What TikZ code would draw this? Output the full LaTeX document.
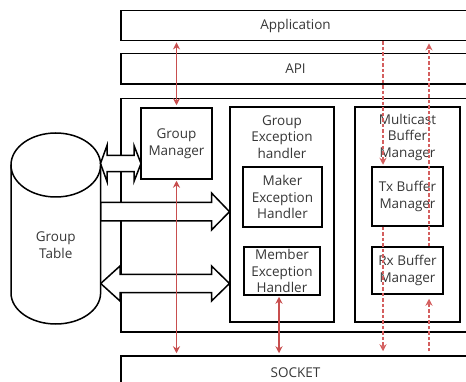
\documentclass[tikz,border=0pt]{standalone}
\usepackage{fontspec}
\setmainfont{Open Sans}
\usetikzlibrary{arrows.meta}
\definecolor{txt}{RGB}{55,55,55}
\definecolor{arrred}{RGB}{200,78,78}
\definecolor{dashred}{RGB}{212,95,95}
\begin{document}
\begin{tikzpicture}[x=1pt,y=-1pt,
  box/.style={draw=black, line width=1.5pt, fill=white, inner sep=0pt, align=center,
    text=txt, font=\fontsize{13.5}{16.5}\selectfont},
  lbl/.style={inner sep=0pt, align=center, text=txt, font=\fontsize{13.5}{16.5}\selectfont},
  blockarrow/.style={draw=black, line width=1.5pt, fill=white, line join=miter},
  redsolid/.style={draw=arrred, line width=1.6pt, {Stealth[length=7pt,width=7pt]}-{Stealth[length=7pt,width=7pt]}, shorten <=1pt, shorten >=2pt},
  reddash/.style={draw=dashred, line width=1.6pt, dash pattern=on 3.5pt off 2pt, -{Stealth[length=7pt,width=7pt]}}
]
\useasboundingbox (0,0) rectangle (466,382);
\clip (0,0) rectangle (466,382);

% layers
\node[box, minimum width=349pt, minimum height=30pt] (app) at (295.5,25.7) {Application};
\node[box, minimum width=349pt, minimum height=30.5pt] (api) at (295.5,68.7) {API};
\node[box, minimum width=349pt, minimum height=233.7pt] (cont) at (295.5,215.2) {};
\node[box, minimum width=349pt, minimum height=34pt] (sock) at (295.5,373) {SOCKET};

% inner modules
\node[box, minimum width=71pt, minimum height=71pt] (gm) at (176.5,143.5) {Group\\Manager};
\node[box, minimum width=104pt, minimum height=215pt] (geh) at (282,214.5) {};
\node[lbl] (gehl) at (282,137) {Group\\Exception\\handler};
\node[box, minimum width=79pt, minimum height=60pt] (maker) at (282.5,197) {Maker\\Exception\\Handler};
\node[box, minimum width=76pt, minimum height=48pt] (member) at (282,271) {Member\\Exception\\Handler};
\node[box, minimum width=105pt, minimum height=215pt] (mbm) at (407.5,214.5) {};
\node[lbl] (mbml) at (407.5,137) {Multicast\\Buffer\\Manager};
\node[box, minimum width=71pt, minimum height=59pt] (tx) at (407.5,196.5) {Tx Buffer\\Manager};
\node[box, minimum width=71pt, minimum height=47pt] (rx) at (407.5,270.5) {Rx Buffer\\Manager};

% block arrows
\path[blockarrow] (100.5,163.5) -- (107,145.5) -- (107,155.3) -- (134,155.3) -- (134,145.5)
  -- (141,163.5) -- (134,181.5) -- (134,171.7) -- (107,171.7) -- (107,181.5) -- cycle;
\path[blockarrow] (100.6,202.5) -- (211.5,202.5) -- (211.5,193) -- (229.5,211.7) -- (211.5,230)
  -- (211.5,221) -- (100.6,221) -- cycle;
\path[blockarrow] (100.7,283.5) -- (120,266) -- (120,274.5) -- (211.5,274.5) -- (211.5,266)
  -- (229.5,283.5) -- (211.5,301) -- (211.5,292.7) -- (120,292.7) -- (120,301) -- cycle;

% cylinder (Group Table)
\path[draw=black, line width=1.5pt, fill=white]
  (11,165) -- (11,293) .. controls (11,310.1) and (31.05,324) .. (55.8,324)
  .. controls (80.55,324) and (100.6,310.1) .. (100.6,293) -- (100.6,165);
\draw[line width=1.5pt] (55.8,165) ellipse [x radius=44.8pt, y radius=32pt];
\node[lbl] (gt) at (55.8,245) {Group\\Table};

% red solid connectors
\draw[redsolid] (app.south -| gm.north) -- (gm.north);
\draw[redsolid] (gm.south) -- (gm.south |- sock.north);
\coordinate (m) at ([xshift=-3pt]member.south);
\draw[redsolid] (m) -- (m |- sock.north);

% red dashed connectors
\coordinate (d1) at (383,0);
\coordinate (d2) at (429,0);
\draw[reddash, shorten >=1.5pt] (app.south -| d1) -- (tx.north -| d1);
\draw[reddash, shorten >=4pt] (tx.south -| d1) -- (sock.north -| d1);
\draw[reddash, shorten <=4pt, shorten >=4pt] (sock.north -| d2) -- (rx.south -| d2);
\draw[reddash, shorten >=2pt] (rx.north -| d2) -- (app.south -| d2);
\end{tikzpicture}
\end{document}
